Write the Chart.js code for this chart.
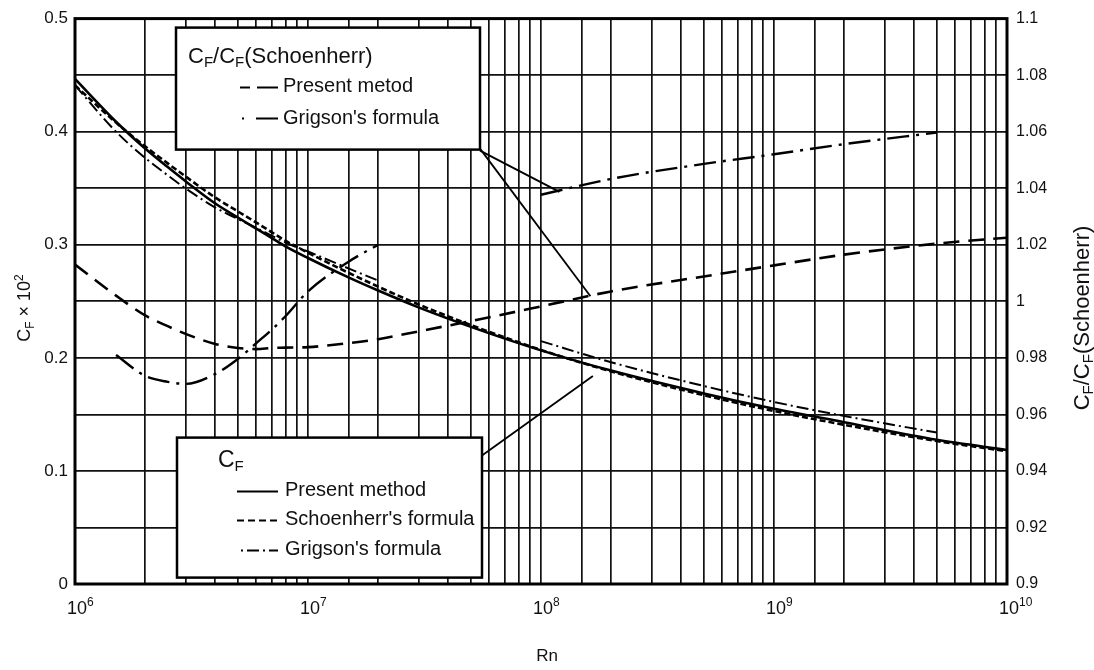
<!DOCTYPE html>
<html>
<head>
<meta charset="utf-8">
<script src="https://cdn.jsdelivr.net/npm/chart.js@4/dist/chart.umd.min.js"></script>
<style>
  html, body { margin: 0; padding: 0; background: #fff; }
  #wrap { width: 1094px; height: 670px; position: relative; }
</style>
</head>
<body>
<div id="wrap"><canvas id="cfChart"></canvas></div>
<script>
// Reynolds numbers shared by all curves
const rn = [1e6, 1.5e6, 2e6, 2.5e6, 3e6, 4e6, 5e6, 6e6, 7e6, 8e6, 1e7, 1.5e7, 2e7, 3e7, 5e7,
            1e8, 2e8, 5e8, 1e9, 2e9, 5e9, 1e10];

// CF x 10^2 (left axis)
const cfPresent    = [0.4467, 0.4088, 0.3851, 0.3687, 0.3558, 0.3365, 0.3241, 0.3142, 0.3059, 0.2986, 0.2883,
                      0.2709, 0.2595, 0.2444, 0.2274, 0.2066, 0.1887, 0.1685, 0.1549, 0.1431, 0.1275, 0.1185];
const cfSchoenherr = [0.441, 0.408, 0.387, 0.372, 0.360, 0.3417, 0.3295, 0.3196, 0.311, 0.3036, 0.293,
                      0.275, 0.263, 0.247, 0.229, 0.207, 0.188, 0.167, 0.153, 0.1408, 0.1264, 0.1174];
const cfGrigson    = [0.441, 0.400, 0.3768, 0.3614, 0.3495, 0.3329, 0.3228, 0.3149, 0.3079, 0.302, 0.294,
                      0.2789, 0.2683, null, null, 0.2148, 0.1961, 0.1751, 0.161, 0.1486, 0.1339, null];

// CF / CF(Schoenherr) (right axis)
const ratioPresent = [1.013, 1.002, 0.995, 0.9912, 0.9884, 0.9849, 0.9835, 0.9831, 0.9835, 0.9836, 0.9838,
                      0.9852, 0.9866, 0.9894, 0.993, 0.9982, 1.0035, 1.0088, 1.0127, 1.0165, 1.0204, 1.0225];
const ratioGrigson = [null, 0.981, 0.9736, 0.9715, 0.9708, 0.9743, 0.9796, 0.9852, 0.990, 0.9947, 1.0035,
                      1.0141, 1.020, null, null, 1.0377, 1.0433, 1.0486, 1.052, 1.0556, 1.0597, null];

// x tick labels: 10^n
const xTickExps = [6, 7, 8, 9, 10];

const FONT = '"Liberation Sans", Arial, Helvetica, sans-serif';
const INK = '#111';

const pts = arr => rn.map((x, i) => ({ x: x, y: arr[i] }));

// text with sub/superscripts: parts = [text, size, dy]
function richWidth(ctx, parts) {
    let w = 0;
    parts.forEach(p => { ctx.font = p[1] + 'px ' + FONT; w += ctx.measureText(p[0]).width; });
    return w;
}
function drawRich(ctx, parts, x, y, align) {
    let cx = x;
    if (align === 'center') cx = x - richWidth(ctx, parts) / 2;
    parts.forEach(p => {
        ctx.font = p[1] + 'px ' + FONT;
        ctx.fillText(p[0], cx, y + p[2]);
        cx += ctx.measureText(p[0]).width;
    });
}

const dashRatio = [16, 9];
const dashRatioG = [22, 7, 3, 7];
const dashSch = [6, 3];
const dashCFG = [12, 4, 2, 4];

// annotation lines from the legend boxes to the curves
const pointers = [
    { from: [405, 132], to: [1.2e8, 1.0387], axis: 'y1' },
    { from: [405, 130], to: [1.63e8, 1.0018], axis: 'y1' },
    { from: [407, 437], to: [1.67e8, 0.184], axis: 'y' }
];

const annotations = {
    id: 'annotations',
    afterDatasetsDraw(chart) {
        const { ctx, chartArea: a, scales } = chart;
        ctx.save();
        ctx.strokeStyle = '#000';
        ctx.fillStyle = '#000';

        // pointer lines
        ctx.lineWidth = 1.8;
        ctx.setLineDash([]);
        pointers.forEach(p => {
            ctx.beginPath();
            ctx.moveTo(a.left + p.from[0], a.top + p.from[1]);
            ctx.lineTo(scales.x.getPixelForValue(p.to[0]), scales[p.axis].getPixelForValue(p.to[1]));
            ctx.stroke();
        });

        // plot frame
        ctx.lineWidth = 3;
        ctx.strokeRect(a.left, a.top, a.right - a.left, a.bottom - a.top);

        // upper legend box (ratio curves)
        let bx = a.left + 101, by = a.top + 9;
        ctx.fillStyle = '#fff';
        ctx.fillRect(bx, by, 304, 122);
        ctx.lineWidth = 2.5;
        ctx.strokeRect(bx, by, 304, 122);
        ctx.fillStyle = INK;
        ctx.textBaseline = 'alphabetic';
        drawRich(ctx, [['C', 22, 0], ['F', 15, 4], ['/C', 22, 0], ['F', 15, 4], ['(Schoenherr)', 22, 0]], bx + 12, by + 35);
        ctx.textBaseline = 'middle';
        ctx.font = '20px ' + FONT;
        ctx.fillText('Present metod', bx + 107, by + 59);
        ctx.fillText("Grigson's formula", bx + 107, by + 91);
        ctx.lineWidth = 2;
        ctx.setLineDash([10, 7, 21, 0]);
        ctx.beginPath(); ctx.moveTo(bx + 64, by + 60); ctx.lineTo(bx + 102, by + 60); ctx.stroke();
        ctx.setLineDash([2, 12, 22, 0]);
        ctx.beginPath(); ctx.moveTo(bx + 66, by + 91); ctx.lineTo(bx + 102, by + 91); ctx.stroke();
        ctx.setLineDash([]);

        // lower legend box (CF curves)
        bx = a.left + 102; by = a.top + 419;
        ctx.fillStyle = '#fff';
        ctx.fillRect(bx, by, 305, 140);
        ctx.lineWidth = 2.5;
        ctx.strokeRect(bx, by, 305, 140);
        ctx.fillStyle = INK;
        ctx.textBaseline = 'alphabetic';
        drawRich(ctx, [['C', 23, 0], ['F', 15, 4]], bx + 41, by + 29);
        ctx.textBaseline = 'middle';
        ctx.font = '20px ' + FONT;
        ctx.fillText('Present method', bx + 108, by + 53);
        ctx.fillText("Schoenherr's formula", bx + 108, by + 82);
        ctx.fillText("Grigson's formula", bx + 108, by + 112);
        ctx.lineWidth = 2;
        ctx.beginPath(); ctx.moveTo(bx + 60, by + 54); ctx.lineTo(bx + 101, by + 54); ctx.stroke();
        ctx.setLineDash([7, 4]);
        ctx.beginPath(); ctx.moveTo(bx + 60, by + 83); ctx.lineTo(bx + 101, by + 83); ctx.stroke();
        ctx.setLineDash([2, 4, 12, 4]);
        ctx.beginPath(); ctx.moveTo(bx + 64, by + 113); ctx.lineTo(bx + 101, by + 113); ctx.stroke();
        ctx.setLineDash([]);
        ctx.restore();
    },
    afterDraw(chart) {
        const { ctx, chartArea: a, scales } = chart;
        ctx.save();
        ctx.fillStyle = INK;
        ctx.textBaseline = 'alphabetic';
        // x tick labels 10^n
        xTickExps.forEach(e => {
            const px = scales.x.getPixelForValue(Math.pow(10, e));
            drawRich(ctx, [['10', 18, 0], [String(e), 12, -8]], px - 8, a.bottom + 30);
        });
        // x title
        ctx.font = '17px ' + FONT;
        ctx.textAlign = 'center';
        ctx.fillText('Rn', 547, 661);
        ctx.textAlign = 'left';
        // left title
        ctx.save();
        ctx.translate(30, 308);
        ctx.rotate(-Math.PI / 2);
        drawRich(ctx, [['C', 18, 0], ['F', 12, 4], [' \u00d7 10', 18, 0], ['2', 12, -7]], 0, 0, 'center');
        ctx.restore();
        // right title
        ctx.save();
        ctx.translate(1089, 318);
        ctx.rotate(-Math.PI / 2);
        drawRich(ctx, [['C', 22, 0], ['F', 15, 4], ['/C', 22, 0], ['F', 15, 4], ['(Schoenherr)', 22, 0]], 0, 0, 'center');
        ctx.restore();
        ctx.restore();
    }
};

const lineBase = { borderColor: '#000', pointRadius: 0, fill: false, cubicInterpolationMode: 'monotone', spanGaps: false };

new Chart(document.getElementById('cfChart'), {
    type: 'line',
    data: {
        datasets: [
            Object.assign({ label: 'Present method', data: pts(cfPresent), yAxisID: 'y', borderWidth: 2.6 }, lineBase),
            Object.assign({ label: "Schoenherr's formula", data: pts(cfSchoenherr), yAxisID: 'y', borderWidth: 2.6, borderDash: dashSch }, lineBase),
            Object.assign({ label: "Grigson's formula", data: pts(cfGrigson), yAxisID: 'y', borderWidth: 2, borderDash: dashCFG }, lineBase),
            Object.assign({ label: 'Present metod', data: pts(ratioPresent), yAxisID: 'y1', borderWidth: 2.6, borderDash: dashRatio }, lineBase),
            Object.assign({ label: "Grigson's formula", data: pts(ratioGrigson), yAxisID: 'y1', borderWidth: 2.4, borderDash: dashRatioG }, lineBase)
        ]
    },
    options: {
        responsive: true,
        maintainAspectRatio: false,
        animation: false,
        layout: { padding: { top: 16, left: 0, right: 0, bottom: 0 } },
        plugins: { legend: { display: false }, tooltip: { enabled: false } },
        scales: {
            x: {
                type: 'logarithmic',
                min: 1e6,
                max: 1e10,
                border: { display: false },
                grid: { color: INK, lineWidth: 1.7, drawTicks: false },
                ticks: { autoSkip: false, maxRotation: 0, callback: () => '' },
                afterFit: s => { s.height = 86; }
            },
            y: {
                position: 'left',
                min: 0,
                max: 0.5,
                border: { display: false },
                grid: { color: INK, lineWidth: 1.7, drawTicks: false },
                ticks: {
                    stepSize: 0.05,
                    padding: 7,
                    color: INK,
                    font: { family: FONT, size: 17 },
                    callback: v => (Math.round(v * 100) % 10 === 0 ? String(Math.round(v * 10) / 10) : '')
                },
                afterFit: s => { s.width = 75; }
            },
            y1: {
                position: 'right',
                min: 0.9,
                max: 1.1,
                border: { display: false },
                grid: { display: false, drawTicks: false },
                ticks: {
                    stepSize: 0.02,
                    padding: 9,
                    color: INK,
                    font: { family: FONT, size: 16 },
                    callback: v => String(Math.round(v * 100) / 100)
                },
                afterFit: s => { s.width = 87; }
            }
        }
    },
    plugins: [annotations]
});
</script>
</body>
</html>
